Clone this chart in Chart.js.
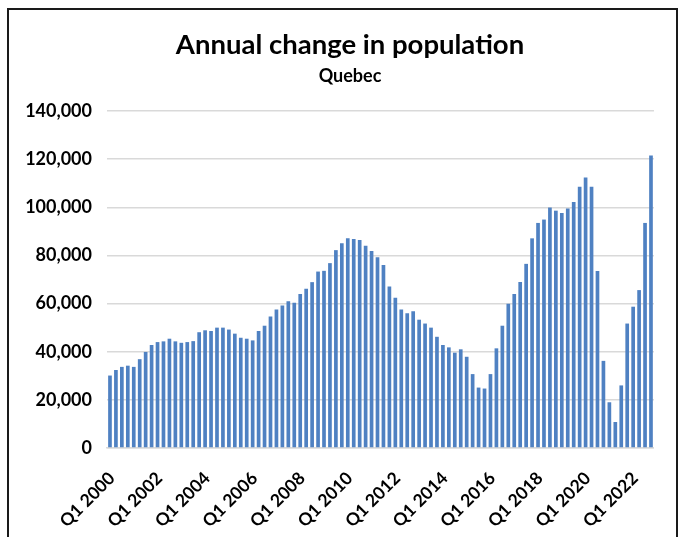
<!DOCTYPE html>
<html>
<head>
<meta charset="utf-8">
<script src="https://cdn.jsdelivr.net/npm/chart.js@4.4.0/dist/chart.umd.min.js"></script>
<style>
  html, body { margin: 0; padding: 0; background: #fff; }
  body { width: 686px; height: 537px; overflow: hidden; position: relative;
         font-family: Lato, "Open Sans", sans-serif; color: #000; }
  .frame {
    position: absolute; left: 7px; top: 8px; width: 671px; height: 560px;
    border: 2px solid #1a1a1a; box-sizing: border-box;
  }
  #wrap { position: absolute; left: 0; top: 0; width: 686px; height: 537px; }
  .title, .subtitle {
    position: absolute; left: 0; width: 700px; text-align: center;
    font-weight: bold; white-space: nowrap;
  }
  .title { top: 28px; font-size: 27.5px; line-height: 32px; }
  .subtitle { top: 64px; font-size: 18px; line-height: 22px; }
</style>
</head>
<body>
<div class="frame"></div>
<div id="wrap"><canvas id="popChart"></canvas></div>
<div class="title">Annual change in population</div>
<div class="subtitle">Quebec</div>
<script>
// quarterly series, Q1 2000 .. Q4 2022
const years = [2000, 2001, 2002, 2003, 2004, 2005, 2006, 2007, 2008, 2009, 2010, 2011,
  2012, 2013, 2014, 2015, 2016, 2017, 2018, 2019, 2020, 2021, 2022];
const quarters = ['Q1', 'Q2', 'Q3', 'Q4'];

const popChange = [
  30100, 32400, 33700, 34200, 33700, 36900, 39900, 42800,
  44000, 44300, 45400, 44300, 43700, 44000, 44400, 48100,
  48900, 48600, 50000, 50000, 49200, 47500, 45800, 45400,
  44700, 48600, 50800, 54600, 57500, 59200, 61000, 60300,
  64000, 66200, 68900, 73300, 73600, 76800, 82200, 85100,
  87100, 86800, 86400, 84000, 81800, 79200, 76000, 67100,
  62400, 57500, 56000, 56800, 53300, 51700, 50000, 46200,
  42800, 41800, 39600, 41000, 37900, 30700, 25100, 24700,
  30700, 41400, 50800, 59900, 64000, 69000, 76500, 87100,
  93500, 94900, 99900, 98600, 97600, 99500, 102200, 108500,
  112400, 108500, 73500, 36200, 19000, 10800, 26000, 51700,
  58700, 65600, 93500, 121500
];

const yTicks = [0, 20000, 40000, 60000, 80000, 100000, 120000, 140000];

const labels = [];
years.forEach(y => quarters.forEach(q => labels.push(q + ' ' + y)));

const FONT = 'Lato, "Open Sans", sans-serif';

new Chart(document.getElementById('popChart'), {
  type: 'bar',
  data: {
    labels: labels,
    datasets: [{
      label: 'Annual change',
      data: popChange,
      backgroundColor: '#4f81c2',
      borderWidth: 0,
      barPercentage: 0.62,
      categoryPercentage: 1.0
    }]
  },
  options: {
    responsive: true,
    maintainAspectRatio: false,
    animation: false,
    layout: { padding: { top: 111, right: 30, left: 10, bottom: 0 } },
    plugins: {
      legend: { display: false },
      tooltip: { enabled: false }
    },
    scales: {
      x: {
        grid: { display: false, drawTicks: false },
        border: { display: true, color: '#d9d9d9', width: 1.5 },
        afterFit: axis => { axis.height = 89; },
        ticks: {
          autoSkip: false,
          maxRotation: 45,
          minRotation: 45,
          color: '#000',
          padding: 20,
          labelOffset: 2,
          font: { family: FONT, size: 17.5, weight: 'bold' },
          callback: (v, i) => (i % 8 === 0 ? labels[i] : '')
        }
      },
      y: {
        min: 0,
        max: 140000,
        afterBuildTicks: axis => { axis.ticks = yTicks.map(v => ({ value: v })); },
        grid: { color: '#d9d9d9', lineWidth: 1.5, drawTicks: false },
        border: { display: false },
        afterFit: axis => { axis.width = 97; },
        ticks: {
          color: '#000',
          padding: 15,
          font: { family: FONT, size: 18, weight: 'bold' },
          callback: v => v.toLocaleString('en-US')
        }
      }
    }
  }
});
</script>
</body>
</html>
